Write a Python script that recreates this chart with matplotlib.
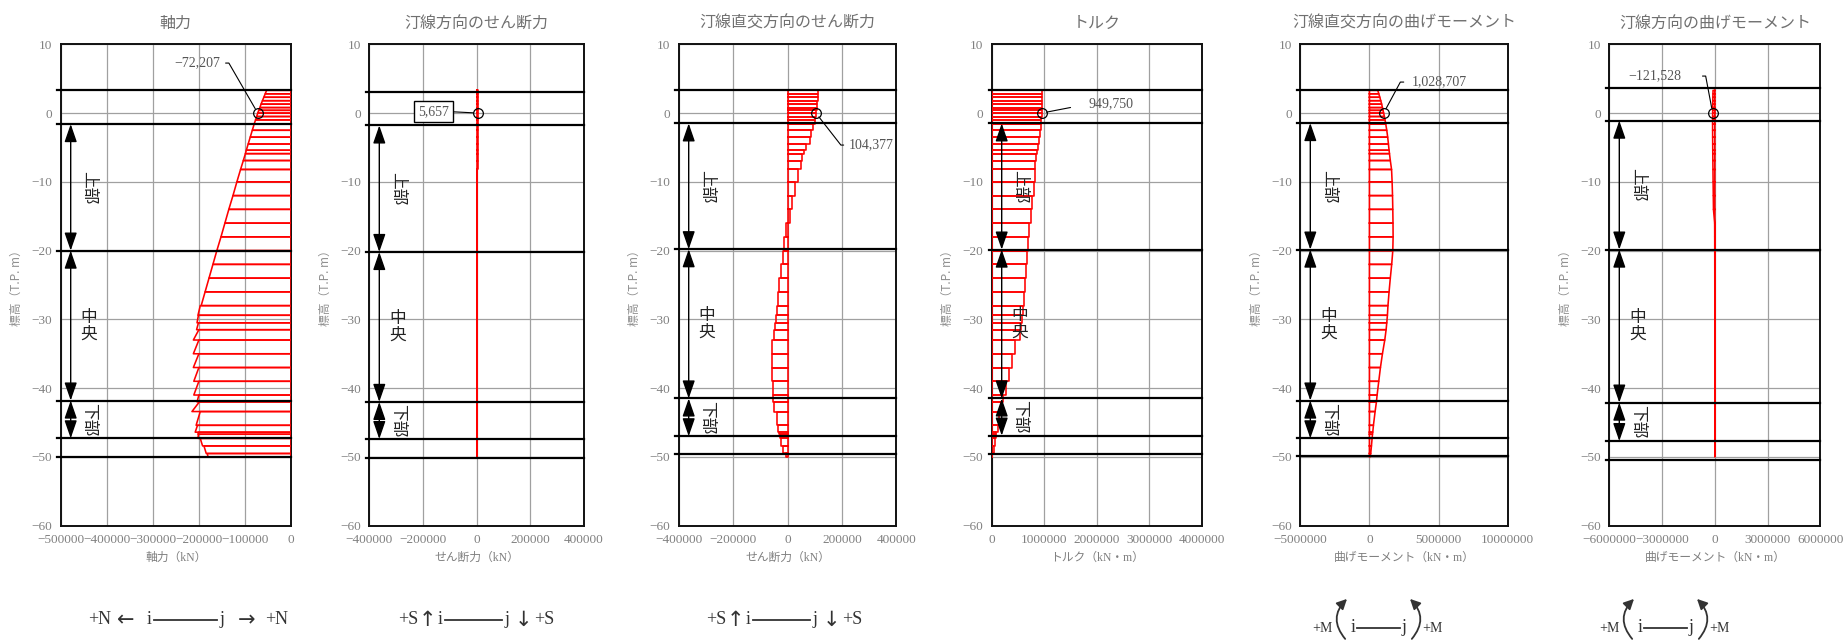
''' 断面力の深度分布図（軸力・せん断力・トルク・曲げモーメント） '''
import matplotlib
matplotlib.use('Agg')
import matplotlib.pyplot as plt
from matplotlib.ticker import FuncFormatter
from matplotlib.transforms import blended_transform_factory
from matplotlib.patches import FancyArrowPatch

plt.rcParams['font.family'] = ['Liberation Serif', 'Noto Sans CJK JP', 'DejaVu Sans']
JP = ['Noto Sans CJK JP', 'DejaVu Sans']

# 節点標高 (T.P. m)
z_nodes = [3.3, 2.8, 2.3, 1.8, 1.3, 0.8, 0.4, 0.0, -0.5, -1.0,
           -1.6, -2.5, -3.5, -4.5, -5.4, -5.9, -6.9, -8.2, -10.0, -12.0,
           -14.0, -16.0, -18.0, -20.0, -22.0, -24.0, -26.0, -28.0, -29.4, -30.5,
           -31.5, -33.0, -35.0, -37.0, -39.0, -41.0, -42.0, -43.4, -45.4, -46.4,
           -46.7, -47.3, -48.4, -49.5, -50.0]

# 軸力 (kN) 要素 i端 / j端
N_i = [-53000, -56000, -59000, -62000, -65000, -67500, -70000, -72207, -74500, -77000,
       -80000, -84000, -88500, -93000, -97000, -99000, -103500, -109500, -117500, -126000,
       -135000, -143500, -152000, -161000, -169500, -178000, -186500, -197000, -201000, -201000,
       -200000, -200000, -200000, -200000, -200000, -200000, -199000, -197000, -203000, -201000,
       -201000, -197000, -189000, -182000]
N_j = [-56000, -59000, -62000, -65000, -67500, -70000, -72207, -74500, -77000, -80000,
       -84000, -88500, -93000, -97000, -99000, -103500, -109500, -117500, -126000, -135000,
       -143500, -152000, -161000, -169500, -178000, -186500, -195000, -202000, -204000, -205000,
       -212000, -212000, -212000, -211000, -211000, -204000, -215000, -206000, -208000, -202000,
       -202000, -192000, -184000, -180000]

# 汀線方向のせん断力 (kN) 要素ごと
Sx = [6200, 6100, 6000, 5900, 5850, 5800, 5700, 5657, 5500, 5300,
      5000, 4700, 4400, 4100, 3900, 3700, 3400, 3000, 2600, 2200,
      1900, 1600, 1400, 1200, 1000, 900, 800, 700, 600, 500,
      450, 400, 350, 300, 250, 200, 150, 100, 80, 60,
      40, 30, 20, 10]

# 汀線直交方向のせん断力 (kN) 要素ごと
Sy = [113000, 112000, 111000, 110000, 108500, 107000, 105500, 104377, 102000, 100000,
      93000, 86000, 81000, 68000, 60000, 55000, 48000, 37000, 27000, 16000,
      9000, -5000, -12000, -18000, -24000, -30000, -34000, -39000, -44000, -45000,
      -48000, -56000, -57000, -57000, -55000, -53000, -50000, -39000, -35000, -31000,
      -28000, -23000, -15000, -5000]

# トルク (kN・m) 要素ごと
T = [962000, 960000, 958000, 956000, 954000, 952000, 951000, 949750, 945000, 940000,
     937000, 913000, 894000, 875000, 856000, 843000, 831000, 825000, 799000, 767000,
     748000, 710000, 697000, 678000, 647000, 627000, 609000, 596000, 583000, 565000,
     539000, 449000, 386000, 335000, 278000, 221000, 190000, 139000, 120000, 90000,
     80000, 60000, 40000, 15000]

# 汀線直交方向の曲げモーメント (kN・m) 節点値
My = [600000, 680000, 750000, 820000, 885000, 940000, 985000, 1028707, 1080000, 1130000,
      1180000, 1254000, 1320000, 1374000, 1420000, 1450000, 1510000, 1600000, 1640000, 1670000,
      1690000, 1705000, 1712000, 1690000, 1610000, 1510000, 1420000, 1340000, 1300000, 1254000,
      1206000, 1109000, 940000, 796000, 675000, 555000, 506000, 410000, 290000, 240000,
      220000, 193000, 145000, 95000, 48000]

# 汀線方向の曲げモーメント (kN・m) 節点値
Mx = [-100000, -105000, -110000, -113000, -116000, -118000, -120000, -121528, -123000, -124000,
      -125000, -124000, -122000, -119000, -116000, -114000, -110000, -104000, -96000, -86000,
      -76000, -8000, -5000, -3000, -2000, -1000, 0, 0, 5000, 10000,
      12000, 14000, 15000, 15000, 15000, 14000, 13000, 12000, 11000, 10000,
      9000, 8000, 6000, 4000, 2000]

titles = ['軸力', '汀線方向のせん断力', '汀線直交方向のせん断力', 'トルク',
          '汀線直交方向の曲げモーメント', '汀線方向の曲げモーメント']
xlabels = ['軸力（kN）', 'せん断力（kN）', 'せん断力（kN）', 'トルク（kN・m）',
           '曲げモーメント（kN・m）', '曲げモーメント（kN・m）']
xlims = [(-500000, 0), (-400000, 400000), (-400000, 400000), (0, 4000000),
         (-5000000, 10000000), (-6000000, 6000000)]
xticks = [range(-500000, 1, 100000), range(-400000, 400001, 200000),
          range(-400000, 400001, 200000), range(0, 4000001, 1000000),
          range(-5000000, 10000001, 5000000), range(-6000000, 6000001, 3000000)]
# 区間境界（標高）
sections = [[3.3, -1.6, -20.0, -41.8, -47.3, -50.0],
            [3.05, -1.8, -20.2, -42.0, -47.4, -50.2],
            [3.3, -1.5, -19.8, -41.5, -47.0, -49.6],
            [3.3, -1.5, -19.85, -41.5, -46.9, -49.6],
            [3.4, -1.45, -19.85, -41.8, -47.3, -49.9],
            [3.7, -1.1, -19.85, -42.1, -47.7, -50.4]]
peak_vals = [-72207, 5657, 104377, 949750, 1028707, -121528]
peak_txt = ['−72,207', '5,657', '104,377', '949,750', '1,028,707', '−121,528']

# 要素ごとの i端/j端 値
elem_vals = [
    (N_i, N_j),
    (Sx, Sx),
    (Sy, Sy),
    (T, T),
    (My[:-1], My[1:]),
    (Mx[:-1], Mx[1:]),
]

W, H = 1845, 641
fig = plt.figure(figsize=(W / 100, H / 100), dpi=100)
lefts = [60.7, 369.3, 678.7, 991.7, 1300.3, 1609.3]
rights = [291, 584, 896.3, 1202, 1507.7, 1820.3]
top_px, bot_px = 44.3, 525.7

fmt = FuncFormatter(lambda v, p: ('%d' % v).replace('-', '−'))

# 注記の配置 (ha, dx, dy [px], angleB, shrinkA)
ann = [('right', -37.7, 50, 120, 2),
       ('center', -45, 1.5, None, 0),
       ('left', 33.3, -32, -52, 2),
       ('left', 46.7, 9, None, 11),
       ('left', 28.4, 31, 61.7, 4),
       ('right', -31, 37, 100.7, 13)]

for k in range(6):
    l, r = lefts[k], rights[k]
    ax = fig.add_axes([l / W, 1 - bot_px / H, (r - l) / W, (bot_px - top_px) / H])
    wpx = r - l
    ax.set_xlim(*xlims[k])
    ax.set_ylim(-60, 10)
    ax.set_xticks(list(xticks[k]))
    ax.set_yticks(range(-60, 11, 10))
    ax.xaxis.set_major_formatter(fmt)
    ax.yaxis.set_major_formatter(fmt)
    ax.grid(True, color='#a0a0a0', lw=0.9)
    ax.set_axisbelow(True)
    ax.tick_params(length=0, pad=6, labelsize=9.5, labelcolor='#808080')
    for s in ax.spines.values():
        s.set_linewidth(1.4)
        s.set_color('#111111')
    ax.set_title(titles[k], fontsize=11.5, color='#707070', pad=12, family=JP)
    ax.set_xlabel(xlabels[k], fontsize=8.5, color='#808080', labelpad=4)
    ax.set_ylabel('標高（T.P. m）', fontsize=8.5, color='#909090', labelpad=6, family=JP)

    # 断面力図
    vi, vj = elem_vals[k]
    for e in range(len(vi)):
        zt, zb = z_nodes[e], z_nodes[e + 1]
        ax.plot([0, vi[e], vj[e], 0, 0], [zt, zt, zb, zb, zt], color='red', lw=1.15, zorder=3)

    tr = blended_transform_factory(ax.transAxes, ax.transData)
    for lev in sections[k]:
        ax.plot([-0.015, 1.0], [lev, lev], color='k', lw=1.6, transform=tr,
                clip_on=False, zorder=5)

    # 区間矢印とラベル
    sec = sections[k]
    ax_x = 10.0 / wpx
    lab_x = 28.0 / wpx
    names = ['上部', '中央', '下部']
    for s in range(3):
        z0, z1 = sec[s + 1], sec[s + 2]
        ax.annotate('', xy=(ax_x, z1), xytext=(ax_x, z0), xycoords=tr, textcoords=tr,
                    arrowprops=dict(arrowstyle='<|-|>,head_length=1.1,head_width=0.38',
                                    mutation_scale=10, color='k', lw=1.0,
                                    shrinkA=0, shrinkB=0), zorder=6)
        zm = (z0 + z1) / 2
        if names[s] == '中央':
            ax.text(lab_x, zm, '中\n央', transform=tr, ha='center', va='center',
                    fontsize=12, color='#222222', linespacing=1.0, family=JP, zorder=6)
        else:
            ax.text(lab_x, zm, names[s], transform=tr, ha='center', va='center',
                    rotation=-90, fontsize=12, color='#222222', family=JP, zorder=6)

    # 最大値の注記
    v = peak_vals[k]
    ax.plot([v], [0], 'o', mfc='none', mec='k', ms=7, mew=0.9, zorder=7)
    ha, dx, dy, angB, shA = ann[k]
    relpos = {'right': (1, 0.5), 'left': (0, 0.5), 'center': (1, 0.5)}[ha]
    ap = dict(arrowstyle='-', color='k', lw=0.8, shrinkA=shA, shrinkB=3.5, relpos=relpos)
    if angB is not None:
        ap['connectionstyle'] = 'angle,angleA=0,angleB=%g,rad=0' % angB
    kw = {}
    if k == 1:
        kw['bbox'] = dict(boxstyle='square,pad=0.3', fc='white', ec='k', lw=1.0)
    ax.annotate(peak_txt[k], xy=(v, 0), xytext=(dx, dy), textcoords='offset pixels',
                ha=ha, va='center', fontsize=10, color='#555555', arrowprops=ap,
                zorder=8, **kw)


# 符号の定義図
def fx(x):
    return x / W


def fy(y):
    return 1 - y / H


SYM = dict(fontsize=13, color='#333333', va='center', family=['Liberation Serif', 'DejaVu Serif'])
ARW = dict(color='#333333', va='center', ha='center', family=['DejaVu Sans'])


def member(x0, x1, y):
    fig.add_artist(plt.Line2D([fx(x0), fx(x1)], [fy(y), fy(y)], color='#333333', lw=1.3))


# 軸力
y0 = 620
fig.text(fx(88), fy(y0), '+N', ha='left', **SYM)
fig.text(fx(126), fy(y0), '←', fontsize=15, **ARW)
fig.text(fx(149), fy(y0), 'i', ha='center', **SYM)
member(154, 217, y0)
fig.text(fx(222), fy(y0), 'j', ha='center', **SYM)
fig.text(fx(247), fy(y0), '→', fontsize=15, **ARW)
fig.text(fx(265), fy(y0), '+N', ha='left', **SYM)

# せん断力
for sh in (-308, 0):
    fig.text(fx(706 + sh), fy(y0), '+S', ha='left', **SYM)
    fig.text(fx(735 + sh), fy(y0), '↑', fontsize=15, **ARW)
    fig.text(fx(748 + sh), fy(y0), 'i', ha='center', **SYM)
    member(753 + sh, 810 + sh, y0)
    fig.text(fx(815 + sh), fy(y0), 'j', ha='center', **SYM)
    fig.text(fx(831 + sh), fy(y0), '↓', fontsize=15, **ARW)
    fig.text(fx(842 + sh), fy(y0), '+S', ha='left', **SYM)

# 曲げモーメント
ym = 628
MSYM = dict(SYM, fontsize=10)
for sh in (0, 287):
    fig.text(fx(1333 + sh), fy(ym), '+M', ha='right', **MSYM)
    fig.text(fx(1353 + sh), fy(ym), 'i', ha='center', **SYM)
    member(1357 + sh, 1400 + sh, ym)
    fig.text(fx(1404 + sh), fy(ym), 'j', ha='center', **SYM)
    fig.text(fx(1422 + sh), fy(ym), '+M', ha='left', **MSYM)
    fig.add_artist(FancyArrowPatch((fx(1347 + sh), fy(641)), (fx(1349 + sh), fy(597)),
                                   transform=fig.transFigure, connectionstyle='arc3,rad=-0.5',
                                   arrowstyle='-|>,head_length=0.6,head_width=0.3',
                                   mutation_scale=10, color='#333333', lw=1.3))
    fig.add_artist(FancyArrowPatch((fx(1410 + sh), fy(641)), (fx(1408 + sh), fy(597)),
                                   transform=fig.transFigure, connectionstyle='arc3,rad=0.5',
                                   arrowstyle='-|>,head_length=0.6,head_width=0.3',
                                   mutation_scale=10, color='#333333', lw=1.3))

fig.savefig('out.png', dpi=100)
